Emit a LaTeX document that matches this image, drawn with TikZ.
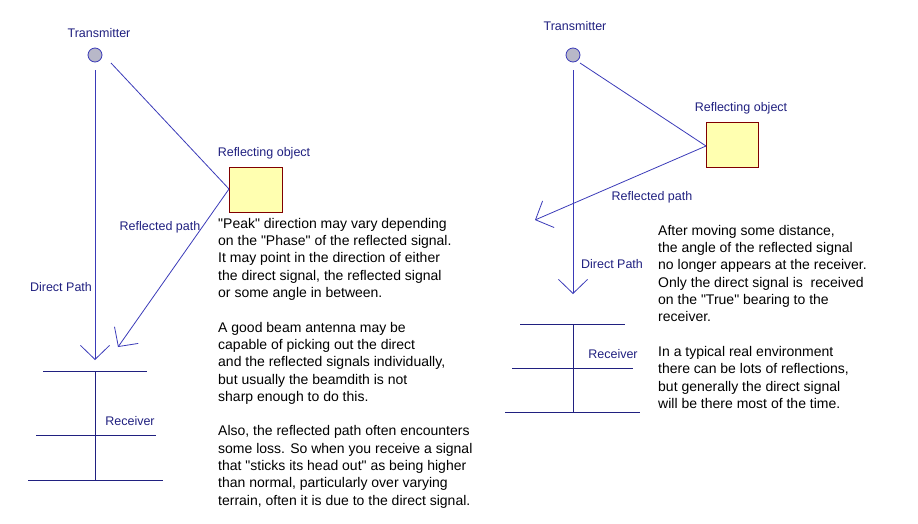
\documentclass[tikz,border=0pt]{standalone}
\usepackage{fontspec}
\setmainfont{Liberation Sans}
\newfontfamily\bodyfont{Liberation Sans}
\usetikzlibrary{arrows.meta}
\newcommand{\qq}{\symbol{34}}
\definecolor{lbl}{HTML}{202080}
\definecolor{ln}{HTML}{3A3AB8}
\definecolor{boxf}{HTML}{FFFFB0}
\definecolor{boxd}{HTML}{800000}
\definecolor{txf}{HTML}{B8B8C8}
\tikzset{
  lab/.style={text=lbl,font=\fontsize{12.5}{14}\selectfont,inner sep=0},
  body/.style={anchor=north west,align=left,inner sep=0,font=\bodyfont\fontsize{14}{17.3}\selectfont},
  sig/.style={draw=ln,line width=0.8pt},
  arr/.style={sig,-{Straight Barb[length=14pt,width=29pt,line width=0.8pt]}},
  refl/.style={draw=boxd,fill=boxf,line width=0.8pt,minimum width=53pt,minimum height=45pt,inner sep=0},
  tx/.style={circle,draw=ln,fill=txf,minimum size=14pt,inner sep=0,line width=0.8pt},
  rx/.style={draw=lbl,line width=0.8pt}
}
\begin{document}
\begin{tikzpicture}[x=1pt,y=-1pt]
\useasboundingbox (0,0) rectangle (918,523);
% left
\node[tx] (t1) at (95,55) {};
\node[lab] at (99,33) {Transmitter};
\node[refl,anchor=north west] (r1) at (229,167) {};
\node[lab] at (264,153) {Reflecting object};
\coordinate (p1) at (229,189);
\coordinate (d1) at (95,360);
\coordinate (e1) at (118,347);
\draw[arr] (t1.south) ++(0,8) -- (d1);
\draw[sig] (111,63) -- (p1);
\draw[arr] (p1) -- (e1);
\node[lab] at (160,227) {Reflected path};
\node[lab] at (61,287) {Direct Path};
\node[lab] at (130,421) {Receiver};
\coordinate (v1) at (95,371);
\coordinate (v2) at (95,480);
\draw[rx] (v1) -- (v2);
\draw[rx] (43,371) -- (147,371);
\draw[rx] (36,435) -- (156,435);
\draw[rx] (28,480) -- (163,480);
\node[body] (tl) at (218,218) {"Peak" direction may vary depending\\on the "Phase" of the reflected signal.\\It may point in the direction of either\\the direct signal, the reflected signal\\or some angle in between.\\[17.3pt]A good beam antenna may be\\capable of picking out the direct\\and the reflected signals individually,\\but usually the beamdith is not\\sharp enough to do this.\\[17.3pt]Also, the reflected path often encounters\\some loss. So when you receive a signal\\that "sticks its head out" as being higher\\than normal, particularly over varying\\terrain, often it is due to the direct signal.};
% right
\node[tx] (t2) at (573,55) {};
\node[lab] at (575,26) {Transmitter};
\node[refl,anchor=north west,minimum width=52pt] (r2) at (706,122) {};
\node[lab] at (741,108) {Reflecting object};
\coordinate (p2) at (706,146);
\coordinate (d2) at (573,294);
\coordinate (e2) at (535,220);
\draw[arr] (t2.south) ++(0,8) -- (d2);
\draw[sig] (580,63) -- (p2);
\draw[arr] (p2) -- (e2);
\node[lab] at (652,197) {Reflected path};
\node[lab] at (612,264) {Direct Path};
\node[lab] at (613,354) {Receiver};
\draw[rx] (573,324) -- (573,412);
\draw[rx] (520,324) -- (625,324);
\draw[rx] (512,368) -- (633,368);
\draw[rx] (505,412) -- (640,412);
\node[body] (tr) at (658,225) {After moving some distance,\\the angle of the reflected signal\\no longer appears at the receiver.\\Only the direct signal is \ received\\on the "True" bearing to the\\receiver.\\[17.3pt]In a typical real environment\\there can be lots of reflections,\\but generally the direct signal\\will be there most of the time.};
\end{tikzpicture}
\end{document}
